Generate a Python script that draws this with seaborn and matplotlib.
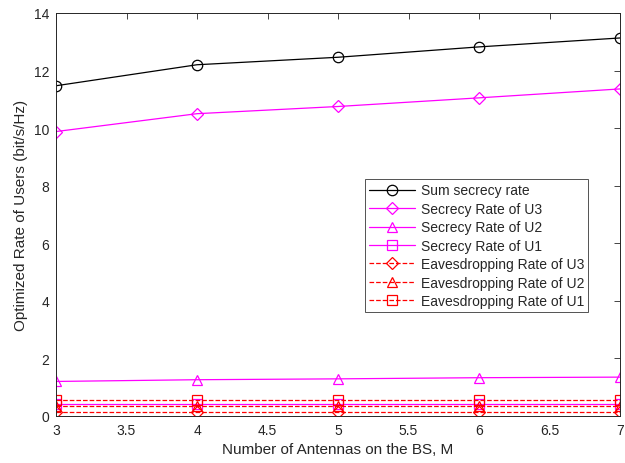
import matplotlib
matplotlib.use("Agg")
import matplotlib.pyplot as plt
import seaborn as sns
import numpy as np

M = [3, 4, 5, 6, 7]
sum_rate = [11.47, 12.2, 12.46, 12.82, 13.13]
sec_u3 = [9.88, 10.5, 10.75, 11.05, 11.36]
sec_u2 = [1.2, 1.26, 1.29, 1.33, 1.35]
sec_u1 = [0.40, 0.40, 0.40, 0.40, 0.40]
eav_u3 = [0.13, 0.13, 0.13, 0.13, 0.13]
eav_u2 = [0.34, 0.34, 0.34, 0.34, 0.34]
eav_u1 = [0.55, 0.55, 0.55, 0.55, 0.55]

sns.set_style("white")
plt.rcParams['font.family'] = ['Liberation Sans', 'DejaVu Sans']

fig = plt.figure(figsize=(6.25, 4.64), dpi=100)
ax = fig.add_axes([0.0896, 0.1013, 0.9024, 0.8687])

series = [
    (sum_rate, 'Sum secrecy rate', 'black', 'o', '-'),
    (sec_u3, 'Secrecy Rate of U3', '#ff00ff', 'D', '-'),
    (sec_u2, 'Secrecy Rate of U2', '#ff00ff', '^', '-'),
    (sec_u1, 'Secrecy Rate of U1', '#ff00ff', 's', '-'),
    (eav_u3, 'Eavesdropping Rate of U3', '#ff0000', 'D', '--'),
    (eav_u2, 'Eavesdropping Rate of U2', '#ff0000', '^', '--'),
    (eav_u1, 'Eavesdropping Rate of U1', '#ff0000', 's', '--'),
]
for vals, lab, col, mk, ls in series:
    ms = {'o': 7.5, 'D': 6.5, '^': 7.5, 's': 6.5}[mk]
    sns.lineplot(x=M, y=vals, ax=ax, color=col, marker=mk, linestyle=ls,
                 markerfacecolor='none', markeredgecolor=col, markersize=ms,
                 markeredgewidth=0.9,
                 linewidth=0.9, label=lab, dashes=False if ls == '-' else (8, 5))

ax.set_xlim(3, 7)
ax.set_ylim(0, 14)
ax.set_xticks([3, 3.5, 4, 4.5, 5, 5.5, 6, 6.5, 7])
ax.set_xticklabels(['3', '3.5', '4', '4.5', '5', '5.5', '6', '6.5', '7'])
ax.set_yticks([0, 2, 4, 6, 8, 10, 12, 14])
ax.tick_params(direction='in', top=True, right=True, length=4, width=0.6,
               labelsize=10, colors='#262626', pad=5)
for s in ax.spines.values():
    s.set_color('#262626')
    s.set_linewidth(0.7)
ax.set_xlabel('Number of Antennas on the BS, M', fontsize=11, color='#262626')
ax.set_ylabel('Optimized Rate of Users (bit/s/Hz)', fontsize=11, color='#262626')

leg = ax.legend(loc='lower right', bbox_to_anchor=(0.956, 0.24), fontsize=10,
                frameon=True, fancybox=False, edgecolor='#262626',
                handlelength=3.3, borderpad=0.3, labelspacing=0.32, handletextpad=0.4)
leg.get_frame().set_linewidth(0.7)

fig.savefig('out.png', dpi=100)
